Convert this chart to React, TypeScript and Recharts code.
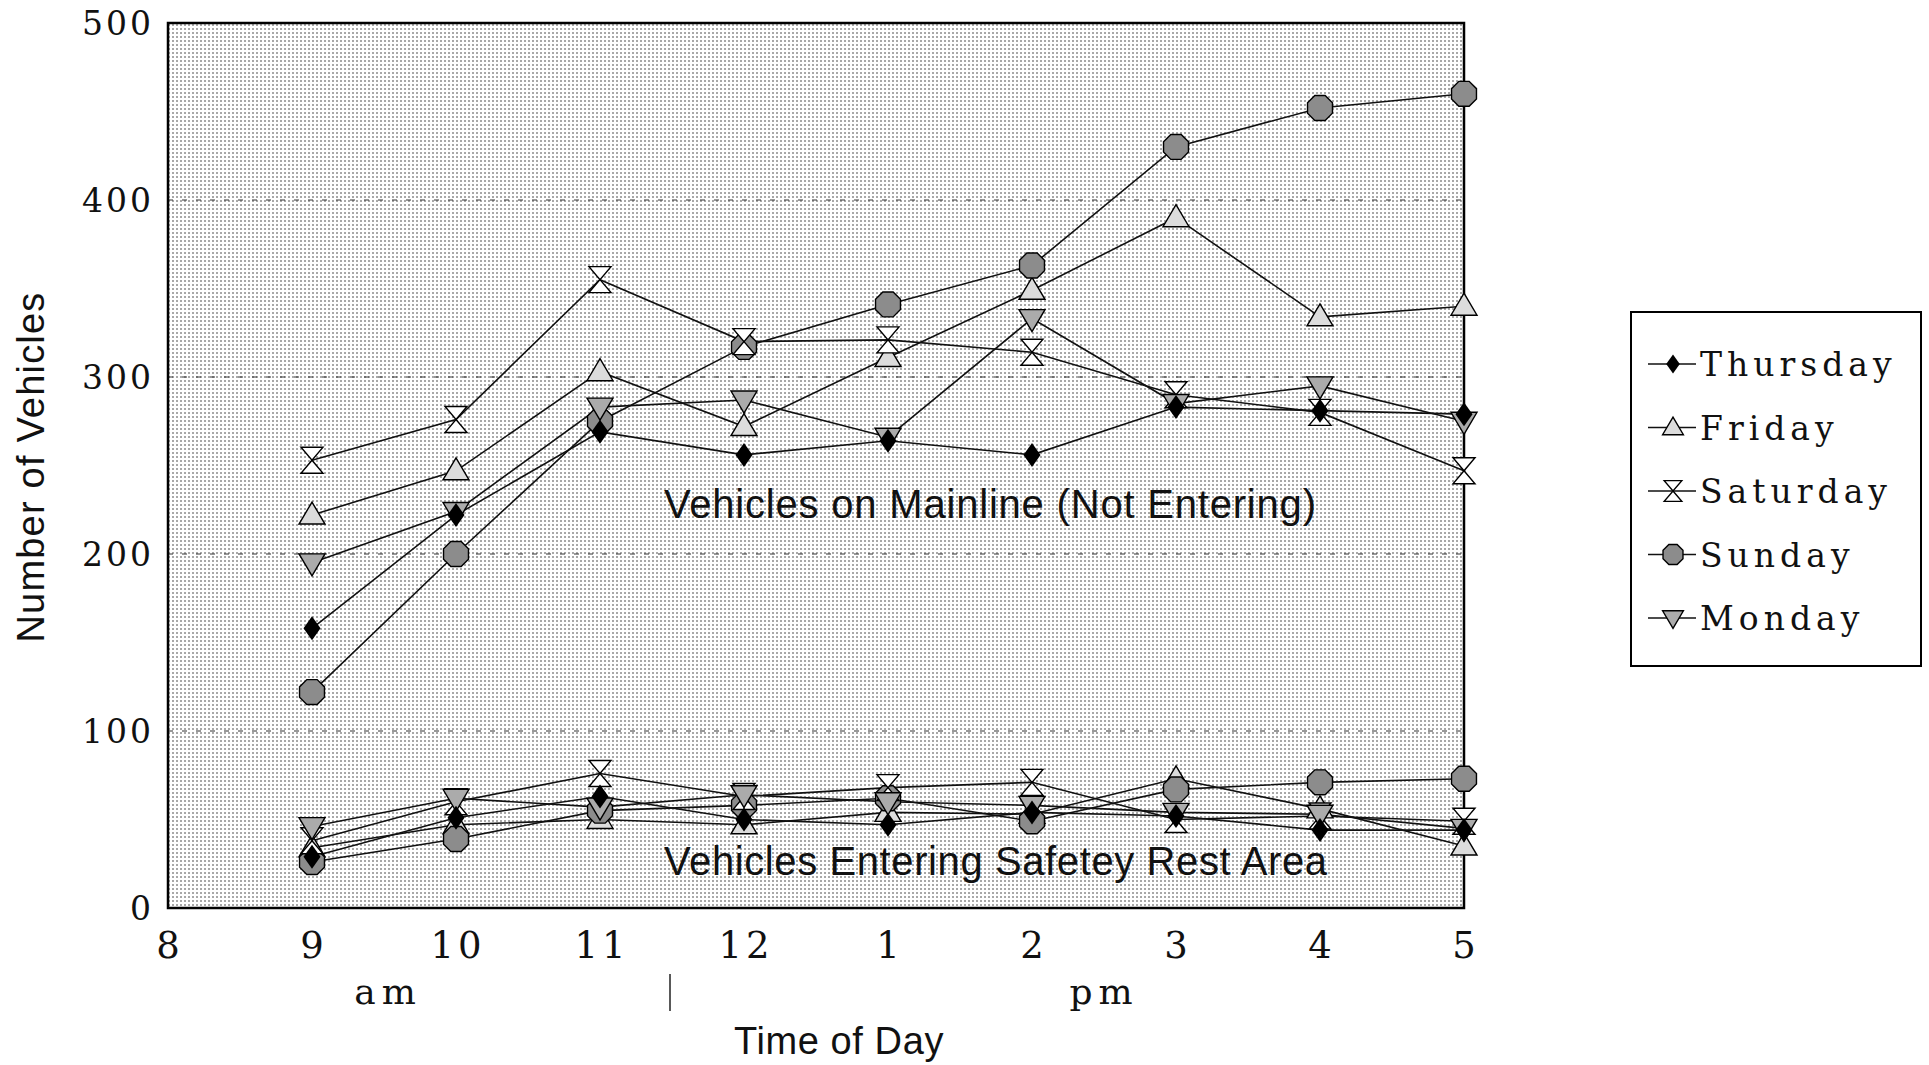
import { LineChart, Line, XAxis, YAxis, CartesianGrid, ReferenceArea } from 'recharts'

// hours of day (24h) the counts were taken at
const HOURS = [9, 10, 11, 12, 13, 14, 15, 16, 17]
const AXIS_HOURS = [8, 9, 10, 11, 12, 13, 14, 15, 16, 17]
const HOUR_LABELS = ['8', '9', '10', '11', '12', '1', '2', '3', '4', '5']
const Y_TICKS = [0, 100, 200, 300, 400, 500]

// vehicles on mainline (not entering)
const THURSDAY_MAINLINE = [158, 222, 269, 256, 264, 256, 283, 281, 279]
const FRIDAY_MAINLINE = [222, 247, 303, 272, 311, 349, 390, 334, 340]
const SATURDAY_MAINLINE = [253, 276, 355, 320, 321, 314, 290, 280, 247]
const SUNDAY_MAINLINE = [122, 200, 275, 317, 341, 363, 430, 452, 460]
const MONDAY_MAINLINE = [195, 224, 283, 287, 266, 333, 285, 295, 275]

// vehicles entering the rest area
const THURSDAY_REST = [29, 51, 63, 50, 47, 54, 52, 44, 44]
const FRIDAY_REST = [34, 47, 50, 47, 54, 53, 73, 56, 35]
const SATURDAY_REST = [38, 60, 76, 63, 68, 71, 50, 52, 49]
const SUNDAY_REST = [26, 39, 55, 58, 62, 49, 67, 71, 73]
const MONDAY_REST = [46, 62, 57, 64, 60, 58, 54, 53, 45]

type Shape = 'diamond' | 'triangleUp' | 'hourglass' | 'octagon' | 'triangleDown'

const SERIF = '"DejaVu Serif", serif'
const SANS = '"Liberation Sans", Arial, sans-serif'

// draw order (last on top)
const SERIES: { key: string; name: string; shape: Shape; main: number[]; rest: number[] }[] = [
  { key: 'fri', name: 'Friday', shape: 'triangleUp', main: FRIDAY_MAINLINE, rest: FRIDAY_REST },
  { key: 'sun', name: 'Sunday', shape: 'octagon', main: SUNDAY_MAINLINE, rest: SUNDAY_REST },
  { key: 'sat', name: 'Saturday', shape: 'hourglass', main: SATURDAY_MAINLINE, rest: SATURDAY_REST },
  { key: 'mon', name: 'Monday', shape: 'triangleDown', main: MONDAY_MAINLINE, rest: MONDAY_REST },
  { key: 'thu', name: 'Thursday', shape: 'diamond', main: THURSDAY_MAINLINE, rest: THURSDAY_REST },
]

const LEGEND_ORDER = ['thu', 'fri', 'sat', 'sun', 'mon']

const data = HOURS.map((hour, i) => {
  const row: Record<string, number> = { hour }
  SERIES.forEach((s) => {
    row[s.key + 'Main'] = s.main[i]
    row[s.key + 'Rest'] = s.rest[i]
  })
  return row
})

function Marker({ shape, cx, cy, k = 1 }: { shape: Shape; cx: number; cy: number; k?: number }) {
  const stroke = '#000'
  const sw = 1.4
  if (shape === 'diamond') {
    const w = 8.5 * k
    const h = 12 * k
    return <polygon points={`${cx},${cy - h} ${cx + w},${cy} ${cx},${cy + h} ${cx - w},${cy}`} fill="#000" />
  }
  if (shape === 'triangleUp') {
    const w = 13 * k
    return (
      <polygon
        points={`${cx},${cy - 13 * k} ${cx + w},${cy + 9 * k} ${cx - w},${cy + 9 * k}`}
        fill="#dcdcdc"
        stroke={stroke}
        strokeWidth={sw}
      />
    )
  }
  if (shape === 'triangleDown') {
    const w = 13 * k
    return (
      <polygon
        points={`${cx - w},${cy - 9 * k} ${cx + w},${cy - 9 * k} ${cx},${cy + 13 * k}`}
        fill="#ababab"
        stroke={stroke}
        strokeWidth={sw}
      />
    )
  }
  if (shape === 'hourglass') {
    const w = 11 * k
    const h = 13 * k
    return (
      <path
        d={`M${cx - w},${cy - h} L${cx + w},${cy - h} L${cx},${cy} Z M${cx},${cy} L${cx + w},${cy + h} L${cx - w},${cy + h} Z`}
        fill="#fff"
        stroke={stroke}
        strokeWidth={sw}
      />
    )
  }
  const r = 13.5 * k
  const pts = [0, 1, 2, 3, 4, 5, 6, 7]
    .map((i) => {
      const a = ((i * 45 + 22.5) * Math.PI) / 180
      return `${cx + r * Math.cos(a)},${cy + r * Math.sin(a)}`
    })
    .join(' ')
  return <polygon points={pts} fill="#8c8c8c" stroke={stroke} strokeWidth={sw} />
}

function XTick({ x, y, payload }: any) {
  const idx = AXIS_HOURS.indexOf(payload.value)
  return (
    <text x={x + 2} y={y + 50} textAnchor="middle" fontFamily={SERIF} fontSize={37} letterSpacing={4} fill="#111">
      {HOUR_LABELS[idx]}
    </text>
  )
}

function YTick({ x, y, payload }: any) {
  return (
    <text x={x - 14} y={y + 12} textAnchor="end" fontFamily={SERIF} fontSize={33} letterSpacing={3} fill="#111">
      {payload.value}
    </text>
  )
}

export default function App() {
  return (
    <div style={{ position: 'absolute', left: 0, top: 0, width: 1929, height: 1065, background: '#fff' }}>
      <LineChart width={1929} height={1065} data={data} margin={{ top: 23, right: 465, bottom: 97, left: 88 }}>
        <defs>
          <pattern id="dots" width="4" height="4" patternUnits="userSpaceOnUse">
            <rect width="4" height="4" fill="#fff" />
            <rect width="2" height="2" fill="#a8a8a8" />
          </pattern>
        </defs>
        <CartesianGrid fill="url(#dots)" vertical={false} stroke="#333" strokeDasharray="5 9" />
        <XAxis
          dataKey="hour"
          type="number"
          domain={[8, 17]}
          ticks={AXIS_HOURS}
          height={60}
          tickSize={0}
          tickMargin={0}
          axisLine={false}
          tickLine={false}
          tick={<XTick />}
        />
        <YAxis
          type="number"
          domain={[0, 500]}
          ticks={Y_TICKS}
          width={80}
          tickSize={0}
          tickMargin={0}
          axisLine={false}
          tickLine={false}
          tick={<YTick />}
        />
        <ReferenceArea x1={8} x2={17} y1={0} y2={500} fill="none" stroke="#000" strokeWidth={2.5} ifOverflow="visible" />
        {SERIES.map((s) => (
          <Line
            key={s.key + 'Main'}
            dataKey={s.key + 'Main'}
            name={s.name}
            type="linear"
            stroke="#111"
            strokeWidth={1.6}
            isAnimationActive={false}
            dot={(p: any) => <Marker key={`${s.key}M${p.index}`} shape={s.shape} cx={p.cx} cy={p.cy} />}
            activeDot={false}
          />
        ))}
        {SERIES.map((s) => (
          <Line
            key={s.key + 'Rest'}
            dataKey={s.key + 'Rest'}
            name={s.name}
            type="linear"
            stroke="#111"
            strokeWidth={1.6}
            isAnimationActive={false}
            dot={(p: any) => <Marker key={`${s.key}R${p.index}`} shape={s.shape} cx={p.cx} cy={p.cy} />}
            activeDot={false}
          />
        ))}
      </LineChart>

      <svg width={1929} height={1065} style={{ position: 'absolute', left: 0, top: 0, pointerEvents: 'none' }}>
        <text x={664} y={518} fontFamily={SANS} fontSize={40} letterSpacing={0.8} fill="#111">
          Vehicles on Mainline (Not Entering)
        </text>
        <text x={664} y={875} fontFamily={SANS} fontSize={40} letterSpacing={0.6} fill="#111">
          Vehicles Entering Safetey Rest Area
        </text>
        <text x={839} y={1054} textAnchor="middle" fontFamily={SANS} fontSize={38} letterSpacing={0.6} fill="#111">
          Time of Day
        </text>
        <text
          x={44}
          y={467}
          textAnchor="middle"
          fontFamily={SANS}
          fontSize={38}
          letterSpacing={1.2}
          fill="#111"
          transform="rotate(-90 44 467)"
        >
          Number of Vehicles
        </text>
        <text x={388} y={1004} textAnchor="middle" fontFamily={SERIF} fontSize={36} letterSpacing={6} fill="#111">
          am
        </text>
        <text x={1104} y={1004} textAnchor="middle" fontFamily={SERIF} fontSize={36} letterSpacing={6} fill="#111">
          pm
        </text>
        <line x1={670} y1={974} x2={670} y2={1011} stroke="#222" strokeWidth={1.5} />
      </svg>

      <div
        style={{
          position: 'absolute',
          left: 1630,
          top: 311,
          width: 288,
          height: 352,
          border: '2px solid #000',
          background: '#fff',
        }}
      >
        <svg width={288} height={352}>
          {LEGEND_ORDER.map((k, i) => {
            const s = SERIES.find((d) => d.key === k)!
            const cy = 51 + i * 63.5
            return (
              <g key={k}>
                <line x1={16} x2={64} y1={cy} y2={cy} stroke="#111" strokeWidth={1.6} />
                <Marker shape={s.shape} cx={41} cy={cy} k={0.8} />
                <text x={68} y={cy + 12} fontFamily={SERIF} fontSize={33} letterSpacing={5} fill="#111">
                  {s.name}
                </text>
              </g>
            )
          })}
        </svg>
      </div>
    </div>
  )
}
